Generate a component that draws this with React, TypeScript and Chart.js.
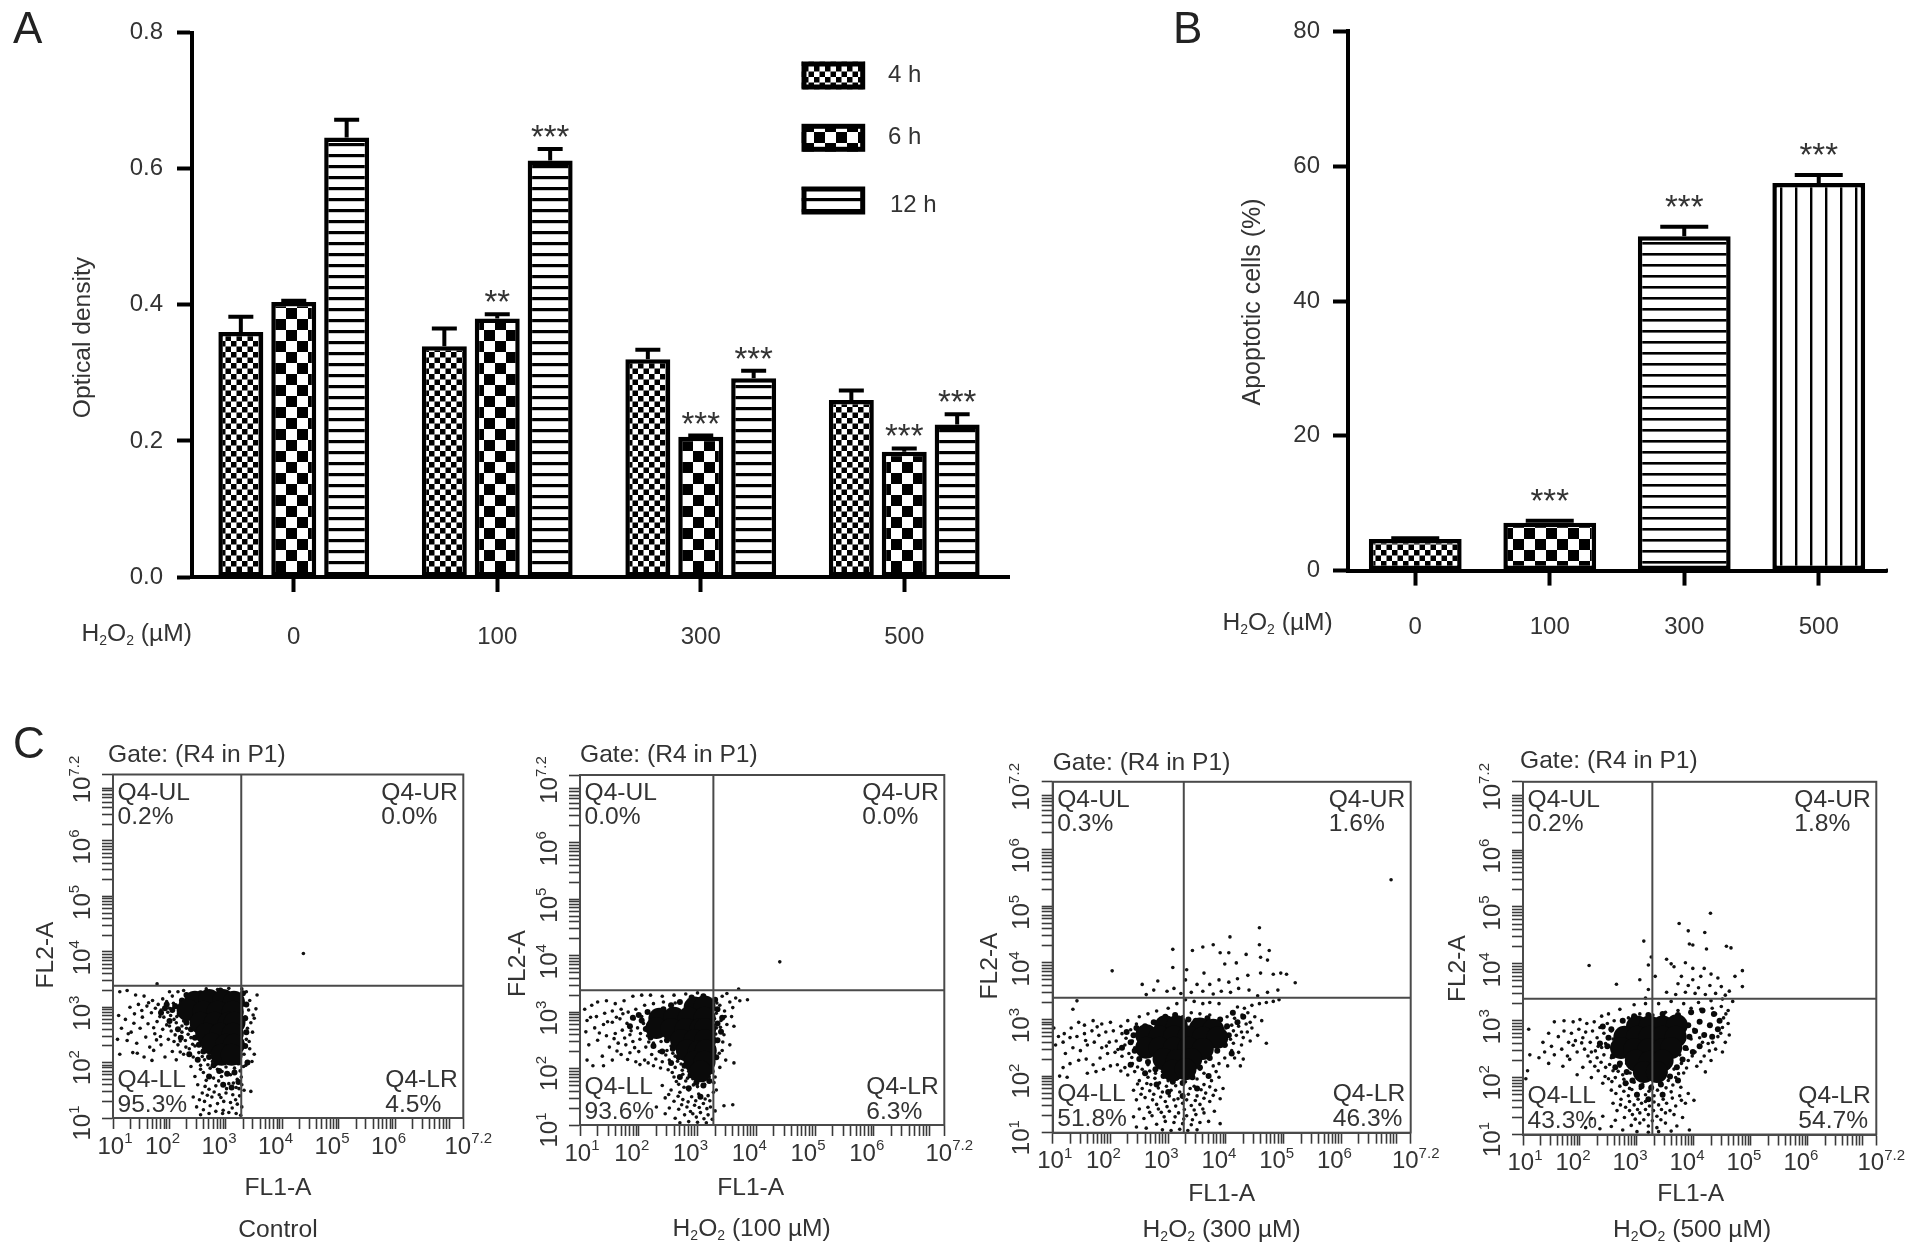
import React, { useEffect, useRef } from 'react';
import { Chart, registerables } from 'chart.js';

Chart.register(...registerables);

// ---------- Panel A ----------
const doseLabels = ['0', '100', '300', '500'];
const timeLabels = ['4 h', '6 h', '12 h'];
const od4h = [0.36, 0.339, 0.32, 0.26];
const od6h = [0.404, 0.38, 0.206, 0.184];
const od12h = [0.646, 0.612, 0.292, 0.224];
const odErr4h = [0.3826, 0.365, 0.334, 0.274];
const odErr6h = [0.406, 0.386, 0.208, 0.189];
const odErr12h = [0.672, 0.629, 0.303, 0.239];
const odStars4h = ['', '', '', ''];
const odStars6h = ['', '**', '***', '***'];
const odStars12h = ['', '***', '***', '***'];

// ---------- Panel B ----------
const apoptotic = [4.7, 7.1, 49.6, 57.5];
const apoptoticErr = [4.8, 7.4, 51.0, 58.7];
const apoptoticStars = ['', '***', '***', '***'];

// ---------- Panel C ----------
const decadeExponents = ['1', '2', '3', '4', '5', '6', '7.2'];
const decadeValues = [10, 100, 1000, 10000, 100000, 1000000, 15848932];
const minorMultipliers = [2, 3, 4, 5, 6, 7, 8, 9];
const gateLog = [3.27, 3.385];

const controlPct = ['0.2%', '0.0%', '95.3%', '4.5%'];
const dose100Pct = ['0.0%', '0.0%', '93.6%', '6.3%'];
const dose300Pct = ['0.3%', '1.6%', '51.8%', '46.3%'];
const dose500Pct = ['0.2%', '1.8%', '43.3%', '54.7%'];

// flow events, as [log10 FL1-A, log10 FL2-A]; "core" = solid black masses, "mid" = dark fringe
const controlCore = [
  [2.45, 3.1], [2.7, 3.13], [2.95, 3.13], [3.14, 3.1], [2.32, 2.95], [2.6, 2.92], [2.85, 2.92], [3.12, 2.92],
  [2.55, 2.72], [2.8, 2.72], [3.05, 2.72], [3.15, 2.72], [2.65, 2.52], [2.9, 2.52], [3.12, 2.52],
  [2.75, 2.34], [3.0, 2.32], [3.14, 2.32], [2.92, 2.14], [3.1, 2.14],
];
const controlMid = [
  [2.1, 3.02], [2.18, 2.88], [2.05, 2.95], [2.22, 3.12], [2.3, 2.72], [2.38, 2.6], [2.45, 2.45], [2.52, 2.32], [2.6, 2.2], [2.7, 2.1],
  [2.78, 1.95], [2.88, 1.85], [3.02, 1.8], [3.15, 1.82], [3.22, 2.0], [3.34, 2.3], [3.36, 2.55], [3.34, 2.8], [3.36, 3.05], [3.3, 3.25],
  [2.9, 3.3], [2.55, 3.25], [1.95, 3.05], [2.3, 3.22], [1.85, 2.9], [2.0, 2.75], [2.2, 2.45], [2.35, 2.15], [2.5, 2.05], [2.7, 1.75],
  [2.95, 1.6], [3.1, 1.55], [3.22, 1.65], [3.38, 2.0], [2.15, 2.6], [1.92, 2.98],
];
const controlDots = [
  [1.12, 3.28], [1.25, 3.3], [1.4, 3.22], [1.55, 3.2], [1.7, 3.12], [1.45, 3.05], [1.3, 3.0], [1.6, 3.02], [1.8, 3.05], [1.95, 3.1],
  [2.05, 3.2], [2.15, 3.28], [2.25, 3.3], [1.1, 2.85], [1.22, 2.78], [1.38, 2.88], [1.52, 2.82], [1.68, 2.9], [1.85, 2.95], [2.0, 2.98],
  [2.12, 3.0], [2.2, 3.08], [1.15, 2.62], [1.32, 2.55], [1.48, 2.62], [1.62, 2.7], [1.78, 2.74], [1.9, 2.82], [2.02, 2.85], [2.18, 2.88],
  [1.08, 2.42], [1.25, 2.4], [1.42, 2.35], [1.58, 2.46], [1.74, 2.52], [1.88, 2.6], [2.0, 2.66], [2.12, 2.72], [2.25, 2.75], [1.12, 2.15],
  [1.35, 2.18], [1.55, 2.1], [1.72, 2.22], [1.85, 2.32], [1.98, 2.42], [2.1, 2.5], [2.22, 2.55], [2.3, 2.62], [1.92, 2.1], [2.05, 2.2],
  [2.15, 2.32], [2.28, 2.4], [2.38, 2.45], [2.12, 2.05], [2.25, 2.15], [2.35, 2.25], [2.45, 2.3], [2.42, 2.1], [2.52, 2.18], [2.55, 1.95],
  [2.62, 2.05], [1.95, 2.68], [2.08, 2.78], [2.22, 2.66], [2.3, 2.82], [1.75, 2.98], [1.88, 3.15], [2.0, 3.28], [2.33, 3.2],
  [2.45, 1.75], [2.6, 1.82], [2.72, 1.9], [2.85, 1.88], [3.0, 1.92], [3.15, 1.9], [3.25, 1.85], [2.5, 1.6], [2.65, 1.68], [2.78, 1.72],
  [2.92, 1.75], [3.08, 1.78], [3.2, 1.7], [2.58, 1.45], [2.7, 1.52], [2.82, 1.58], [2.95, 1.6], [3.05, 1.62], [3.18, 1.55], [3.28, 1.6],
  [2.42, 1.38], [2.62, 1.3], [2.75, 1.38], [2.88, 1.42], [3.0, 1.45], [3.12, 1.42], [3.24, 1.4], [2.48, 1.2], [2.6, 1.15], [2.72, 1.22],
  [2.85, 1.26], [2.96, 1.3], [3.08, 1.28], [3.2, 1.25], [3.28, 1.2], [2.55, 1.06], [2.7, 1.08], [2.82, 1.12], [2.95, 1.14], [3.05, 1.1],
  [3.18, 1.08], [3.26, 1.05], [3.32, 1.5], [3.35, 1.95], [3.32, 2.15], [3.42, 2.25], [3.36, 2.42], [3.46, 2.02], [3.5, 2.15], [3.38, 2.62],
  [3.44, 2.72], [3.34, 2.82], [3.48, 2.86], [3.4, 2.95], [3.5, 2.8], [3.32, 3.05], [3.42, 3.12], [3.55, 3.22], [3.36, 3.28], [3.28, 3.33],
  [3.05, 3.34], [2.85, 3.32], [2.65, 3.33], [1.78, 3.42], [3.44, 1.48], [4.37, 3.97],
  [1.63, 3.08], [1.83, 2.83], [1.97, 2.91], [2.07, 3.07], [2.27, 2.93], [2.13, 2.83], [1.72, 2.63], [1.84, 2.47], [2.03, 2.57], [2.19, 2.39],
  [2.33, 2.51], [2.41, 2.33], [2.57, 2.44], [2.48, 2.57], [2.64, 2.31], [2.58, 2.11], [2.76, 2.02], [2.68, 1.96], [2.83, 1.97], [2.93, 1.84],
  [2.55, 1.88], [2.38, 1.93], [2.63, 1.57], [2.87, 1.67], [3.01, 1.53], [3.13, 1.63], [3.27, 1.74], [2.79, 1.47], [2.91, 1.37], [3.17, 1.33],
  [2.67, 1.41], [2.53, 1.33], [2.94, 1.08], [3.11, 1.18], [3.23, 1.53], [3.31, 1.93], [3.41, 2.38], [3.47, 2.55], [3.53, 2.97], [3.29, 2.33],
  [1.51, 2.94], [1.37, 2.71], [1.27, 2.52], [1.43, 2.17], [1.65, 2.28], [1.77, 2.41], [1.69, 2.04], [2.19, 2.19], [2.29, 2.28], [2.08, 2.38],
];

const dose100Core = [
  [2.95, 3.08], [3.12, 3.1], [2.35, 2.88], [2.6, 2.9], [2.85, 2.9], [3.12, 2.9], [2.3, 2.72], [2.55, 2.7], [2.8, 2.7], [3.05, 2.7], [3.13, 2.7],
  [2.72, 2.5], [2.95, 2.5], [3.13, 2.5], [2.82, 2.32], [3.02, 2.3], [3.14, 2.32], [2.95, 2.12], [3.12, 2.12], [3.05, 1.95],
];
const dose100Mid = [
  [2.15, 3.0], [2.05, 2.85], [2.0, 2.95], [2.12, 2.7], [2.2, 2.55], [2.42, 3.05], [2.55, 3.12], [2.7, 3.18], [2.48, 2.5], [2.58, 2.35],
  [2.68, 2.2], [2.78, 2.05], [2.88, 1.88], [2.98, 1.75], [3.1, 1.7], [3.2, 1.78], [3.24, 1.95], [3.32, 2.2], [3.34, 2.5], [3.34, 2.8],
  [3.34, 3.05], [3.3, 3.22], [3.1, 3.28], [2.9, 3.26], [1.9, 2.9], [1.85, 2.75], [2.25, 2.4], [2.4, 2.3], [2.55, 2.1], [2.7, 1.85],
  [2.85, 1.65], [3.05, 1.5], [3.4, 2.65], [3.42, 2.9],
];
const dose100Dots = [
  [1.08, 3.05], [1.2, 3.12], [1.3, 3.18], [1.45, 3.2], [1.6, 3.15], [1.75, 3.2], [1.9, 3.28], [2.05, 3.3], [2.2, 3.3], [2.4, 3.28],
  [2.6, 3.3], [2.8, 3.32], [3.0, 3.34], [1.12, 2.85], [1.28, 2.92], [1.42, 2.98], [1.55, 3.02], [1.7, 3.05], [1.82, 3.0], [1.95, 3.05],
  [2.1, 3.12], [2.25, 3.15], [2.42, 3.18], [2.62, 3.16], [1.1, 2.65], [1.25, 2.72], [1.4, 2.78], [1.55, 2.82], [1.68, 2.88], [1.8, 2.8],
  [1.92, 2.88], [2.05, 2.92], [2.15, 3.0], [1.15, 2.42], [1.3, 2.5], [1.45, 2.58], [1.6, 2.62], [1.72, 2.68], [1.85, 2.6], [1.98, 2.72],
  [2.08, 2.8], [1.12, 2.15], [1.22, 2.05], [1.38, 2.22], [1.5, 2.38], [1.65, 2.45], [1.78, 2.42], [1.9, 2.48], [2.02, 2.52], [2.15, 2.58],
  [1.4, 2.05], [1.55, 2.15], [1.7, 2.25], [1.85, 2.28], [2.0, 2.3], [2.12, 2.38], [2.25, 2.45], [2.38, 2.48], [1.95, 2.12], [2.1, 2.15],
  [2.22, 2.25], [2.35, 2.3], [2.48, 2.32], [2.55, 2.4], [2.25, 2.05], [2.4, 2.12], [2.52, 2.15], [2.62, 2.22], [2.5, 1.98], [2.62, 2.02], [2.72, 2.08],
  [2.6, 1.85], [2.75, 1.9], [2.85, 1.95], [2.68, 1.72], [2.8, 1.78], [2.92, 1.82], [3.2, 1.85], [2.4, 1.7], [2.55, 1.62], [2.7, 1.58],
  [2.85, 1.62], [3.0, 1.68], [3.12, 1.72], [2.45, 1.48], [2.6, 1.42], [2.75, 1.45], [2.9, 1.5], [3.02, 1.55], [3.18, 1.52], [2.52, 1.3],
  [2.68, 1.28], [2.82, 1.32], [2.95, 1.35], [3.1, 1.38], [3.22, 1.32], [2.3, 1.32], [2.45, 1.2], [2.62, 1.12], [2.78, 1.18], [2.92, 1.2],
  [3.05, 1.22], [3.18, 1.18], [3.25, 1.1], [2.7, 1.04], [2.85, 1.06], [3.0, 1.05], [3.15, 1.04], [3.3, 1.25], [3.45, 1.34], [3.6, 1.36],
  [3.32, 1.62], [3.3, 1.85], [3.38, 2.02], [3.48, 2.15], [3.62, 2.1], [3.3, 2.2], [3.42, 2.32], [3.55, 2.42], [3.35, 2.5], [3.45, 2.6],
  [3.32, 2.72], [3.5, 2.78], [3.4, 2.85], [3.58, 2.92], [3.32, 2.98], [3.46, 3.02], [3.6, 3.08], [3.38, 3.12], [3.55, 3.18], [3.72, 3.2],
  [3.85, 3.22], [3.65, 3.25], [3.42, 3.28], [3.7, 3.41], [3.62, 2.75], [4.4, 3.89],
  [1.73, 2.97], [1.87, 2.67], [2.03, 2.62], [1.93, 2.37], [2.17, 2.47], [2.31, 2.58], [2.43, 2.63], [2.29, 2.17], [2.46, 2.24], [2.58, 2.27],
  [2.37, 2.01], [2.66, 2.13], [2.57, 1.93], [2.74, 1.97], [2.83, 1.83], [2.93, 1.71], [2.64, 1.77], [2.77, 1.67], [2.51, 1.54], [2.67, 1.51],
  [2.97, 1.43], [3.13, 1.46], [2.84, 1.41], [2.73, 1.36], [3.03, 1.31], [3.16, 1.29], [2.88, 1.24], [2.98, 1.14], [3.11, 1.11], [3.21, 1.43],
  [3.27, 1.58], [3.28, 1.75], [3.37, 2.27], [3.43, 2.47], [3.31, 2.61], [3.39, 2.73], [3.47, 2.92], [3.29, 2.88], [3.33, 3.16], [3.5, 3.33],
  [1.33, 2.63], [1.47, 2.83], [1.62, 2.91], [1.58, 2.53], [1.76, 2.54], [1.18, 2.91], [1.63, 2.31], [1.81, 2.16], [2.02, 2.07], [2.16, 2.1],
];

const dose300Core = [
  [2.95, 2.88], [3.15, 2.88], [3.55, 2.84], [3.78, 2.82], [2.62, 2.72], [2.85, 2.7], [3.1, 2.7], [3.35, 2.7], [3.6, 2.68], [3.85, 2.68],
  [2.62, 2.5], [2.85, 2.5], [3.1, 2.5], [3.35, 2.5], [3.6, 2.48], [2.92, 2.3], [3.15, 2.28], [3.4, 2.3], [3.08, 2.1], [3.3, 2.12],
];
const dose300Mid = [
  [2.4, 2.72], [2.35, 2.6], [2.42, 2.45], [2.5, 2.3], [2.65, 2.25], [2.78, 2.12], [2.92, 2.0], [3.08, 1.9], [3.25, 1.88], [3.42, 1.98],
  [3.55, 2.15], [3.72, 2.32], [3.85, 2.45], [3.98, 2.55], [4.05, 2.72], [4.02, 2.88], [3.9, 3.0], [3.68, 3.02], [3.48, 2.98], [3.35, 3.0],
  [3.12, 3.08], [2.95, 3.05], [2.75, 2.95], [2.6, 2.88], [2.45, 2.85], [2.28, 2.78], [2.2, 2.5], [2.35, 2.2], [4.2, 2.95], [4.3, 3.05],
  [4.12, 3.12], [2.6, 2.05], [2.8, 1.85], [3.0, 1.72], [3.25, 1.65], [3.5, 1.78], [3.7, 2.0], [4.1, 2.4],
];
const dose300Dots = [
  [1.02, 2.85], [1.1, 2.7], [1.2, 2.75], [1.32, 2.85], [1.45, 2.95], [1.55, 2.9], [1.7, 2.98], [1.85, 2.92], [2.0, 2.95], [2.18, 2.88],
  [2.3, 2.98], [1.05, 2.55], [1.18, 2.6], [1.3, 2.68], [1.42, 2.7], [1.55, 2.75], [1.68, 2.8], [1.8, 2.72], [1.92, 2.78], [2.05, 2.8],
  [2.2, 2.75], [2.35, 2.82], [2.45, 2.92], [1.22, 2.4], [1.35, 2.5], [1.48, 2.45], [1.6, 2.55], [1.72, 2.6], [1.85, 2.5], [1.98, 2.6],
  [2.1, 2.62], [2.25, 2.55], [2.38, 2.62], [2.48, 2.75], [1.18, 2.15], [1.3, 2.22], [1.45, 2.28], [1.58, 2.3], [1.7, 2.2], [1.82, 2.32],
  [1.95, 2.4], [2.08, 2.42], [2.2, 2.35], [2.32, 2.4], [2.42, 2.5], [1.12, 2.0], [1.25, 1.98], [1.6, 2.05], [1.75, 2.08], [1.88, 2.12],
  [2.0, 2.18], [2.12, 2.2], [2.25, 2.15], [2.38, 2.22], [2.5, 2.3], [2.3, 2.02], [2.42, 2.08], [2.55, 2.12], [2.65, 2.2], [2.78, 2.25],
  [2.5, 1.92], [2.65, 1.98], [2.78, 2.05], [2.9, 2.08], [3.55, 2.12], [3.65, 2.25], [3.72, 2.35], [3.5, 1.95], [3.62, 2.05], [3.78, 2.18],
  [2.4, 1.75], [2.55, 1.78], [2.7, 1.85], [2.85, 1.88], [3.0, 1.92], [3.15, 1.95], [3.3, 1.9], [3.45, 1.82], [3.62, 1.85], [3.75, 1.92], [3.88, 1.98],
  [2.45, 1.58], [2.6, 1.62], [2.75, 1.68], [2.9, 1.72], [3.05, 1.75], [3.2, 1.72], [3.35, 1.68], [3.5, 1.65], [3.65, 1.7], [3.82, 1.75], [3.95, 1.78],
  [2.5, 1.42], [2.65, 1.45], [2.8, 1.5], [2.95, 1.55], [3.1, 1.58], [3.25, 1.52], [3.4, 1.48], [3.55, 1.5], [3.72, 1.55], [3.9, 1.6],
  [2.4, 1.28], [2.58, 1.25], [2.72, 1.3], [2.88, 1.36], [3.02, 1.38], [3.18, 1.35], [3.32, 1.3], [3.48, 1.32], [3.62, 1.35], [3.8, 1.38],
  [2.45, 1.1], [2.62, 1.08], [2.8, 1.15], [2.95, 1.2], [3.1, 1.18], [3.25, 1.16], [3.4, 1.14], [3.55, 1.18], [3.7, 1.2], [3.9, 1.16],
  [2.9, 1.05], [3.05, 1.04], [3.2, 1.06], [3.34, 1.04], [3.5, 1.05],
  [4.0, 2.55], [4.1, 2.45], [4.22, 2.42], [4.3, 2.3], [3.98, 2.32], [4.08, 2.65], [4.18, 2.72], [4.3, 2.68], [4.42, 2.62], [4.0, 2.85],
  [4.1, 2.9], [4.22, 2.88], [4.35, 2.92], [4.45, 2.85], [4.55, 2.72], [4.02, 3.05], [4.15, 3.02], [4.28, 3.08], [4.38, 3.12], [4.5, 3.05],
  [4.62, 2.98], [4.7, 2.58], [4.25, 2.18], [4.2, 3.22], [4.32, 3.2], [4.45, 3.25], [4.58, 3.28], [4.7, 3.3], [4.82, 3.32], [4.92, 3.35],
  [2.65, 3.1], [2.8, 3.15], [3.0, 3.2], [3.15, 3.28], [3.3, 3.35], [3.45, 3.32], [3.6, 3.28], [3.72, 3.3], [3.88, 3.28], [2.5, 3.05],
  [3.4, 3.12], [3.55, 3.1], [3.72, 3.08], [3.25, 3.05], [2.62, 3.44], [2.75, 3.52], [2.98, 3.5], [3.1, 3.55], [2.55, 3.62], [2.82, 3.68],
  [3.22, 3.46], [3.4, 3.48], [3.6, 3.5], [3.78, 3.45], [3.92, 3.5], [4.08, 3.48], [4.22, 3.55], [4.4, 3.52], [4.55, 3.42], [4.72, 3.48], [4.9, 3.52],
  [3.3, 3.7], [3.5, 3.62], [3.72, 3.62], [3.88, 3.7], [4.05, 3.66], [4.2, 3.72], [4.38, 3.78], [4.6, 3.82], [4.82, 3.8], [4.95, 3.82], [5.05, 3.8], [5.2, 3.65],
  [3.08, 3.92], [3.32, 3.88], [3.62, 3.82], [3.98, 3.98], [4.18, 4.0], [4.05, 4.18], [4.35, 4.15], [3.42, 4.22], [3.6, 4.28], [3.78, 4.32],
  [3.9, 4.18], [4.6, 4.1], [4.72, 4.05], [4.75, 4.22], [4.58, 4.32], [3.08, 4.24], [4.07, 4.46], [4.58, 4.62], [6.86, 5.47], [2.03, 3.86], [1.42, 3.33], [1.35, 3.18],
  [1.57, 2.63], [1.77, 2.87], [1.93, 2.53], [2.13, 2.47], [2.27, 2.67], [2.37, 2.33], [2.18, 2.09], [2.47, 2.16], [2.57, 2.37], [2.68, 2.09],
  [2.47, 1.86], [2.63, 1.87], [2.77, 1.96], [2.53, 1.68], [2.68, 1.74], [2.83, 1.79], [2.97, 1.82], [3.13, 1.83], [3.38, 1.78], [3.57, 1.76],
  [3.72, 1.81], [2.73, 1.58], [2.87, 1.63], [3.02, 1.65], [3.17, 1.6], [3.32, 1.58], [3.47, 1.57], [3.62, 1.61], [3.78, 1.66], [2.68, 1.36],
  [2.83, 1.42], [2.98, 1.46], [3.13, 1.47], [3.28, 1.41], [3.45, 1.4], [3.6, 1.42], [3.12, 1.28], [3.27, 1.24], [3.42, 1.23], [2.93, 1.28],
  [3.83, 2.08], [3.88, 2.22], [4.03, 2.18], [4.15, 2.32], [4.13, 2.58], [4.27, 2.55], [4.37, 2.78], [4.13, 2.8], [4.27, 2.78], [4.42, 2.95],
];

const dose500Core = [
  [3.0, 2.9], [3.22, 2.9], [3.45, 2.9], [3.7, 2.92], [2.78, 2.72], [3.0, 2.72], [3.22, 2.72], [3.45, 2.72], [3.68, 2.72],
  [2.72, 2.52], [2.95, 2.5], [3.2, 2.5], [3.45, 2.5], [3.6, 2.52], [2.98, 2.3], [3.22, 2.28], [3.45, 2.3], [3.12, 2.1], [3.35, 2.1],
];
const dose500Mid = [
  [2.55, 2.85], [2.5, 2.7], [2.48, 2.55], [2.58, 2.38], [2.7, 2.25], [2.82, 2.1], [2.92, 1.95], [3.08, 1.85], [3.25, 1.82], [3.42, 1.88],
  [3.58, 2.02], [3.7, 2.18], [3.8, 2.32], [3.85, 2.52], [3.92, 2.72], [4.02, 2.82], [4.18, 2.75], [4.32, 2.72], [4.42, 2.85], [4.45, 3.0],
  [4.35, 3.12], [4.15, 3.18], [3.95, 3.15], [3.72, 3.1], [3.45, 3.12], [3.2, 3.1], [2.95, 3.08], [2.75, 3.0], [2.4, 2.9], [2.35, 2.6],
  [2.62, 2.18], [2.8, 1.9], [3.0, 1.7], [3.2, 1.62], [3.45, 1.7], [3.72, 1.95], [3.98, 2.45], [4.1, 2.55], [3.9, 2.92], [4.1, 2.98], [4.28, 2.92],
];
const dose500Dots = [
  [1.1, 2.85], [1.05, 1.98], [1.08, 2.12], [1.12, 2.4], [1.28, 2.35], [1.35, 2.62], [1.45, 2.78], [1.55, 2.98], [1.72, 3.0], [1.88, 2.98],
  [2.0, 3.02], [2.12, 2.95], [2.25, 2.98], [2.38, 3.08], [2.5, 3.12], [1.38, 2.45], [1.5, 2.55], [1.62, 2.72], [1.72, 2.82], [1.85, 2.78],
  [1.98, 2.85], [2.1, 2.8], [2.22, 2.82], [2.35, 2.88], [2.48, 2.95], [2.6, 3.0], [1.45, 2.25], [1.55, 2.4], [1.68, 2.5], [1.8, 2.62],
  [1.92, 2.65], [2.05, 2.7], [2.18, 2.62], [2.3, 2.7], [2.42, 2.78], [2.55, 2.82], [1.7, 2.2], [1.82, 2.32], [1.95, 2.45], [2.08, 2.5],
  [2.2, 2.45], [2.32, 2.55], [2.45, 2.6], [2.58, 2.68], [1.95, 2.05], [2.05, 2.18], [2.18, 2.28], [2.3, 2.35], [2.42, 2.4], [2.55, 2.35],
  [2.2, 2.0], [2.32, 2.12], [2.45, 2.18], [2.58, 2.12], [2.7, 2.2], [2.82, 2.25], [2.4, 1.9], [2.5, 1.98], [2.62, 2.0], [2.75, 2.05], [2.88, 2.08],
  [2.55, 1.78], [2.7, 1.85], [2.82, 1.9], [2.95, 1.92], [3.1, 1.88], [3.25, 1.85], [3.4, 1.9], [3.55, 1.95], [3.68, 2.0], [3.82, 2.08],
  [2.58, 1.55], [2.72, 1.62], [2.85, 1.68], [3.0, 1.72], [3.15, 1.7], [3.3, 1.68], [3.45, 1.72], [3.6, 1.75], [3.75, 1.68], [3.9, 1.72],
  [2.65, 1.42], [2.8, 1.48], [2.95, 1.52], [3.08, 1.55], [3.22, 1.5], [3.38, 1.52], [3.52, 1.55], [3.68, 1.5], [3.85, 1.55], [4.0, 1.6],
  [2.2, 1.28], [2.4, 1.32], [2.62, 1.25], [2.78, 1.3], [2.92, 1.35], [3.05, 1.38], [3.2, 1.35], [3.35, 1.32], [3.5, 1.38], [3.65, 1.35], [3.8, 1.3],
  [2.1, 1.12], [2.35, 1.1], [2.55, 1.14], [2.75, 1.08], [2.9, 1.16], [3.05, 1.2], [3.2, 1.15], [3.35, 1.12], [3.5, 1.2], [3.7, 1.15], [3.92, 1.08],
  [3.0, 1.05], [3.2, 1.04], [3.38, 1.05], [3.6, 1.06], [3.65, 2.15], [3.78, 2.25], [3.9, 2.3], [4.05, 2.2], [4.2, 2.1], [3.75, 2.4], [3.88, 2.5],
  [4.02, 2.45], [4.18, 2.38], [4.3, 2.3], [3.95, 2.68], [4.1, 2.7], [4.25, 2.6], [4.38, 2.5], [4.5, 2.45], [4.0, 2.85], [4.42, 2.72], [4.55, 2.62],
  [4.62, 2.75], [4.5, 2.88], [4.6, 2.95], [4.52, 3.05], [4.38, 3.12], [4.6, 3.18], [4.48, 3.25], [4.32, 3.22], [4.12, 3.2], [3.95, 3.22], [3.72, 3.18],
  [3.5, 3.15], [3.28, 3.1], [3.05, 3.12], [2.85, 3.05], [2.7, 3.2], [2.95, 3.28], [3.15, 3.3], [3.38, 3.3], [3.6, 3.34], [3.82, 3.3], [4.08, 3.32], [4.3, 3.35],
  [4.5, 3.38], [4.68, 3.34], [3.52, 3.5], [3.68, 3.46], [3.85, 3.5], [4.02, 3.48], [4.2, 3.46], [4.38, 3.48], [4.55, 3.45], [3.72, 3.65], [3.9, 3.62],
  [4.08, 3.58], [4.28, 3.62], [4.48, 3.6], [4.62, 3.52], [4.85, 3.6], [3.78, 3.78], [3.98, 3.72], [4.12, 3.78], [4.3, 3.82], [4.42, 3.75], [4.72, 3.78], [4.85, 3.88],
  [3.65, 3.95], [3.85, 4.02], [3.98, 3.92], [4.18, 3.92], [3.32, 3.78], [3.2, 3.98], [3.05, 3.72], [3.2, 3.55], [3.15, 3.4], [2.64, 3.64], [2.16, 3.97], [3.12, 4.4],
  [4.29, 4.89], [3.74, 4.71], [3.9, 4.58], [4.19, 4.55], [4.57, 4.31], [4.65, 4.28], [4.22, 4.26], [3.92, 4.35], [3.98, 4.33], [3.6, 4.0], [3.52, 4.08], [3.25, 4.12],
  [1.78, 2.38], [1.88, 2.57], [2.03, 2.61], [2.14, 2.38], [2.27, 2.47], [2.38, 2.53], [2.26, 2.2], [2.37, 2.27], [2.52, 2.23], [2.44, 2.02],
  [2.56, 1.93], [2.67, 2.11], [2.77, 1.97], [2.87, 1.81], [2.63, 1.72], [2.77, 1.76], [2.91, 1.79], [3.06, 1.81], [3.21, 1.76], [3.36, 1.78],
  [3.51, 1.82], [3.63, 1.87], [3.77, 1.83], [2.71, 1.52], [2.87, 1.58], [3.02, 1.62], [3.15, 1.58], [3.3, 1.57], [3.46, 1.62], [3.62, 1.64],
  [3.78, 1.6], [2.87, 1.42], [3.01, 1.44], [3.15, 1.44], [3.29, 1.42], [3.43, 1.44], [3.58, 1.42], [2.97, 1.27], [3.12, 1.26], [3.27, 1.24],
  [3.42, 1.26], [3.73, 2.07], [3.87, 2.17], [3.97, 2.38], [4.12, 2.28], [4.27, 2.47], [4.15, 2.62], [4.33, 2.62], [4.47, 2.78], [4.56, 3.12],
];

// ---------- Layout (page pixels) ----------
const FONT = '"Liberation Sans", Arial, sans-serif';
const INK = '#333';
const captions = ['Control', '(100 µM)', '(300 µM)', '(500 µM)'];
const quadrantNames = ['Q4-UL', 'Q4-UR', 'Q4-LL', 'Q4-LR'];
const FLOW_SIZE = 24.6;

const flowLayouts = [
  { rect: [0, 720, 500, 538], area: [113, 774.5, 463.3, 1118], gate: [108, 755.7], fl2: [46.5, 955], fl1: [278, 1188.5], cap: [278, 1230], core: controlCore, mid: controlMid, dots: controlDots, pct: controlPct, title: captions[0], topShift: 2 },
  { rect: [500, 720, 475, 538], area: [580, 775, 944.3, 1125], gate: [580, 755.4], fl2: [518, 963.5], fl1: [750.7, 1188.6], cap: [751.7, 1229], core: dose100Core, mid: dose100Mid, dots: dose100Dots, pct: dose100Pct, title: captions[1], topShift: 1 },
  { rect: [975, 720, 465, 538], area: [1052.7, 781.8, 1410.7, 1132.7], gate: [1052.7, 762.8], fl2: [990, 966], fl1: [1221.7, 1194], cap: [1221.7, 1230], core: dose300Core, mid: dose300Mid, dots: dose300Dots, pct: dose300Pct, title: captions[2], topShift: 1 },
  { rect: [1440, 720, 473, 538], area: [1523, 781.8, 1876.3, 1134.5], gate: [1520, 761], fl2: [1458.7, 968.6], fl1: [1690.7, 1194], cap: [1692, 1230], core: dose500Core, mid: dose500Mid, dots: dose500Dots, pct: dose500Pct, title: captions[3], topShift: 1 },
];

// ---------- Helpers ----------
function tile(w: number, h: number, paint: (c: CanvasRenderingContext2D) => void) {
  const t = document.createElement('canvas');
  t.width = w;
  t.height = h;
  const c = t.getContext('2d')!;
  c.fillStyle = '#fff';
  c.fillRect(0, 0, w, h);
  c.fillStyle = '#000';
  paint(c);
  return c.createPattern(t, 'repeat')!;
}
const checker = (cell: number) =>
  tile(cell * 2, cell * 2, (c) => {
    c.fillRect(0, 0, cell, cell);
    c.fillRect(cell, cell, cell, cell);
  });
const hLines = (gap: number, thick: number) => tile(4, gap, (c) => c.fillRect(0, 0, 4, thick));
const vLines = (gap: number, thick: number) => tile(gap, 4, (c) => c.fillRect(0, 0, thick, 4));

function text(c: CanvasRenderingContext2D, s: string, x: number, y: number, size: number, align: CanvasTextAlign = 'left', rot = 0, color = INK) {
  c.save();
  c.translate(x, y);
  if (rot) c.rotate(rot);
  c.font = `${size}px ${FONT}`;
  c.fillStyle = color;
  c.textAlign = align;
  c.textBaseline = 'middle';
  c.fillText(s, 0, 0);
  c.restore();
}

function chem(c: CanvasRenderingContext2D, suffix: string, x: number, y: number, center: boolean) {
  const parts: [string, boolean][] = [['H', false], ['2', true], ['O', false], ['2', true], [' ' + suffix, false]];
  const fontFor = (sub: boolean) => `${sub ? 14 : 24.6}px ${FONT}`;
  let w = 0;
  parts.forEach(([s, sub]) => {
    c.font = fontFor(sub);
    w += c.measureText(s).width;
  });
  let cx = center ? x - w / 2 : x;
  c.save();
  c.fillStyle = INK;
  c.textBaseline = 'middle';
  c.textAlign = 'left';
  parts.forEach(([s, sub]) => {
    c.font = fontFor(sub);
    c.fillText(s, cx, y + (sub ? 7 : 0));
    cx += c.measureText(s).width;
  });
  c.restore();
}

function power(c: CanvasRenderingContext2D, exp: string, x: number, y: number, rot: number) {
  c.save();
  c.translate(x, y);
  if (rot) c.rotate(rot);
  c.fillStyle = INK;
  c.textBaseline = 'middle';
  c.textAlign = 'left';
  c.font = `24px ${FONT}`;
  const bw = c.measureText('10').width;
  c.font = `15px ${FONT}`;
  const ew = c.measureText(exp).width;
  const x0 = -(bw + ew) / 2;
  c.font = `24px ${FONT}`;
  c.fillText('10', x0, 0);
  c.font = `15px ${FONT}`;
  c.fillText(exp, x0 + bw, -8);
  c.restore();
}

function paddingFor(rect: number[], area: number[]) {
  return {
    left: area[0] - rect[0],
    top: area[1] - rect[1],
    right: rect[0] + rect[2] - area[2],
    bottom: rect[1] + rect[3] - area[3],
  };
}

function whisker(c: CanvasRenderingContext2D, x: number, y0: number, y1: number, capW: number) {
  c.save();
  c.strokeStyle = '#000';
  c.lineWidth = 4;
  c.beginPath();
  c.moveTo(x, y0);
  c.lineTo(x, y1);
  c.moveTo(x - capW / 2, y1);
  c.lineTo(x + capW / 2, y1);
  c.stroke();
  c.restore();
}

function barScales(rect: number[], area: number[], tickPad: number, max: number, step: number, fmt: (v: number) => string, yPad: number) {
  const pad = paddingFor(rect, area);
  const tickFont = { family: FONT, size: 24 };
  return {
    x: {
      afterFit: (s: any) => { s.height = pad.bottom; },
      border: { display: true, color: '#000', width: 4 },
      grid: { offset: false, drawOnChartArea: false, tickLength: 15, tickWidth: 4, tickColor: '#000' },
      ticks: { color: INK, font: tickFont, padding: tickPad, maxRotation: 0, autoSkip: false },
    },
    y: {
      min: 0,
      max,
      afterFit: (s: any) => { s.width = pad.left; },
      border: { display: true, color: '#000', width: 4 },
      grid: { drawOnChartArea: false, tickLength: 15, tickWidth: 4, tickColor: '#000' },
      ticks: { color: INK, font: tickFont, padding: yPad, stepSize: step, callback: (v: any) => fmt(Number(v)) },
    },
  };
}

// ---------- Chart builders ----------
const buildA = (cv: HTMLCanvasElement) => {
  const rect = [0, 0, 1030, 680];
  const area = [192, 32.6, 1006, 577];
  const patterns = [checker(5.5), checker(11), hLines(11, 3.2)];
  const series = [od4h, od6h, od12h];
  const errs = [odErr4h, odErr6h, odErr12h];
  const stars = [odStars4h, odStars6h, odStars12h];
  const legendY = [61.7, 124, 186.7];
  const legendTextY = [75, 137, 205];
  const pad = paddingFor(rect, area);
  return new Chart(cv, {
    type: 'bar',
    data: {
      labels: doseLabels,
      datasets: series.map((d, i) => ({
        label: timeLabels[i],
        data: d,
        backgroundColor: patterns[i],
        borderColor: '#000',
        borderWidth: 4.5,
        borderSkipped: false,
        categoryPercentage: 0.78,
        barPercentage: 0.85,
      })),
    },
    options: {
      animation: false,
      responsive: false,
      devicePixelRatio: 1,
      layout: { padding: { left: 0, bottom: 0, top: pad.top, right: pad.right } },
      plugins: { legend: { display: false }, tooltip: { enabled: false } },
      scales: barScales(rect, area, 31, 0.8, 0.2, (v) => v.toFixed(1), 14),
    } as any,
    plugins: [{
      id: 'panelA',
      afterDatasetsDraw(ch: any) {
        const c = ch.ctx;
        series.forEach((_, i) => {
          ch.getDatasetMeta(i).data.forEach((el: any, j: number) => {
            const top = ch.scales.y.getPixelForValue(errs[i][j]);
            whisker(c, el.x, el.y, top, 25);
            if (stars[i][j]) text(c, stars[i][j], el.x, top - 19 + 9, 33, 'center');
          });
        });
        c.fillStyle = '#000';
        c.fillRect(area[2], area[3] - 2, 1010 - area[2], 4);
        ch.data.datasets.forEach((d: any, i: number) => {
          c.fillStyle = d.backgroundColor;
          c.fillRect(801.7, legendY[i], 63.3, 27.6);
          c.lineWidth = 5;
          c.strokeStyle = '#000';
          c.strokeRect(804, legendY[i] + 2.3, 58.7, 23);
          text(c, d.label, i === 2 ? 890 : 888, legendTextY[i], 24);
        });
        text(c, 'A', 13, 31, 44, 'left', 0, '#222');
        text(c, 'Optical density', 83, 337.5, 24.6, 'center', -Math.PI / 2);
        chem(c, '(µM)', 81.5, 634, false);
      },
    }],
  });
};

const buildB = (cv: HTMLCanvasElement) => {
  const rect = [1150, 0, 763, 680];
  const area = [1348, 31.4, 1886, 570.6];
  const patterns = [checker(5.5), checker(11), hLines(11, 2.6), vLines(15, 2.4)];
  const pad = paddingFor(rect, area);
  return new Chart(cv, {
    type: 'bar',
    data: {
      labels: doseLabels,
      datasets: [{
        label: 'Apoptotic cells (%)',
        data: apoptotic,
        backgroundColor: patterns,
        borderColor: '#000',
        borderWidth: 4.5,
        borderSkipped: false,
        categoryPercentage: 1,
        barPercentage: 0.69,
      }],
    },
    options: {
      animation: false,
      responsive: false,
      devicePixelRatio: 1,
      layout: { padding: { left: 0, bottom: 0, top: pad.top, right: pad.right } },
      plugins: { legend: { display: false }, tooltip: { enabled: false } },
      scales: barScales(rect, area, 27, 80, 20, (v) => String(v), 13),
    } as any,
    plugins: [{
      id: 'panelB',
      afterDatasetsDraw(ch: any) {
        const c = ch.ctx;
        c.save();
        c.translate(-rect[0], -rect[1]);
        ch.getDatasetMeta(0).data.forEach((el: any, j: number) => {
          const top = ch.scales.y.getPixelForValue(apoptoticErr[j]);
          whisker(c, el.x + rect[0], el.y, top, 48);
          if (apoptoticStars[j]) text(c, apoptoticStars[j], el.x + rect[0], top - 27 + 9, 33, 'center');
        });
        c.fillStyle = '#000';
        c.fillRect(area[2], area[3] - 2, 2, 4);
        text(c, 'B', 1173, 31, 44, 'left', 0, '#222');
        text(c, 'Apoptotic cells (%)', 1252.7, 302, 25, 'center', -Math.PI / 2);
        chem(c, '(µM)', 1222.4, 623, false);
        c.restore();
      },
    }],
  });
};

const buildFlow = (idx: number) => (cv: HTMLCanvasElement) => {
  const L = flowLayouts[idx];
  const rect = L.rect;
  const [x0, y0, x1, y1] = L.area;
  const toPoint = (p: number[]) => ({ x: Math.pow(10, p[0]), y: Math.pow(10, p[1]) });
  const logTicks = (s: any) => {
    const vals: number[] = [];
    decadeValues.slice(0, 6).forEach((d) => {
      vals.push(d);
      minorMultipliers.forEach((m) => {
        if (d * m <= decadeValues[6]) vals.push(d * m);
      });
    });
    vals.push(decadeValues[6]);
    s.ticks = vals.map((value) => ({ value }));
  };
  const logAxis = (fit: (s: any) => void) => ({
    type: 'logarithmic',
    min: decadeValues[0],
    max: decadeValues[6],
    afterFit: fit,
    afterBuildTicks: logTicks,
    border: { display: true, color: '#4a4a4a', width: 2 },
    grid: { drawOnChartArea: false, tickLength: 11, tickWidth: 1.6, tickColor: '#3a3a3a' },
    ticks: { display: false, autoSkip: false },
  });
  const xLabelShift = [2, -7, -7, -7, -7, -7, 5];
  const yLabelShift = [5, 5, 6, 6, 6, 6, 5];
  const t = L.topShift;
  return new Chart(cv, {
    type: 'scatter',
    data: {
      datasets: [
        { label: 'dense', data: L.core.map(toPoint), pointRadius: 11, pointBorderWidth: 0, backgroundColor: '#0a0a0a' },
        { label: 'fringe', data: L.mid.map(toPoint), pointRadius: 3, pointBorderWidth: 0, backgroundColor: '#0a0a0a' },
        { label: 'events', data: L.dots.map(toPoint), pointRadius: 1.8, pointBorderWidth: 0, backgroundColor: '#111' },
      ],
    },
    options: {
      animation: false,
      responsive: false,
      devicePixelRatio: 1,
      layout: { padding: paddingFor(rect, L.area) },
      plugins: { legend: { display: false }, tooltip: { enabled: false } },
      scales: {
        x: logAxis((s: any) => { s.height = 0; }),
        y: logAxis((s: any) => { s.width = 0; }),
      },
    } as any,
    plugins: [{
      id: 'flow' + idx,
      afterDatasetsDraw(ch: any) {
        const c = ch.ctx;
        const sx = ch.scales.x;
        const sy = ch.scales.y;
        c.save();
        c.translate(-rect[0], -rect[1]);
        const ax = (v: number) => sx.getPixelForValue(v) + rect[0];
        const ay = (v: number) => sy.getPixelForValue(v) + rect[1];
        c.strokeStyle = '#4a4a4a';
        c.lineWidth = 2;
        c.strokeRect(x0, y0, x1 - x0, y1 - y0);
        c.beginPath();
        const gx = ax(Math.pow(10, gateLog[0]));
        const gy = ay(Math.pow(10, gateLog[1]));
        c.moveTo(gx, y0);
        c.lineTo(gx, y1);
        c.moveTo(x0, gy);
        c.lineTo(x1, gy);
        c.stroke();
        decadeExponents.forEach((e, i) => {
          power(c, e, ax(decadeValues[i]) + xLabelShift[i], y1 + 29, 0);
          power(c, e, x0 - 30, ay(decadeValues[i]) + yLabelShift[i], -Math.PI / 2);
        });
        text(c, 'Gate: (R4 in P1)', L.gate[0], L.gate[1], FLOW_SIZE);
        text(c, quadrantNames[0], x0 + 4.5, y0 + 17 + t, FLOW_SIZE);
        text(c, L.pct[0], x0 + 4.5, y0 + 41 + t, FLOW_SIZE);
        text(c, quadrantNames[1], x1 - 82, y0 + 17 + t, FLOW_SIZE);
        text(c, L.pct[1], x1 - 82, y0 + 41 + t, FLOW_SIZE);
        text(c, quadrantNames[2], x0 + 4.5, y1 - 38, FLOW_SIZE);
        text(c, L.pct[2], x0 + 4.5, y1 - 13, FLOW_SIZE);
        text(c, quadrantNames[3], x1 - 78, y1 - 38, FLOW_SIZE);
        text(c, L.pct[3], x1 - 78, y1 - 13, FLOW_SIZE);
        text(c, 'FL1-A', L.fl1[0], L.fl1[1], FLOW_SIZE, 'center');
        text(c, 'FL2-A', L.fl2[0], L.fl2[1], FLOW_SIZE, 'center', -Math.PI / 2);
        if (idx === 0) {
          text(c, L.title, L.cap[0], L.cap[1], FLOW_SIZE, 'center');
          text(c, 'C', 13, 746, 44, 'left', 0, '#222');
        } else {
          chem(c, L.title, L.cap[0], L.cap[1], true);
        }
        c.restore();
      },
    }],
  });
};

// ---------- React ----------
function Panel({ rect, build }: { rect: number[]; build: (c: HTMLCanvasElement) => Chart }) {
  const ref = useRef<HTMLCanvasElement>(null);
  useEffect(() => {
    const chart = build(ref.current!);
    return () => chart.destroy();
  }, [build]);
  return (
    <canvas
      ref={ref}
      width={rect[2]}
      height={rect[3]}
      style={{ position: 'absolute', left: rect[0], top: rect[1], width: rect[2], height: rect[3], filter: 'blur(0.5px)' }}
    />
  );
}

const flowBuilders = flowLayouts.map((_, i) => buildFlow(i));

export default function App() {
  return (
    <div style={{ position: 'absolute', left: 0, top: 0, width: 1913, height: 1258, background: '#fff', overflow: 'hidden' }}>
      <Panel rect={[0, 0, 1030, 680]} build={buildA} />
      <Panel rect={[1150, 0, 763, 680]} build={buildB} />
      {flowLayouts.map((L, i) => (
        <Panel key={i} rect={L.rect} build={flowBuilders[i]} />
      ))}
    </div>
  );
}
